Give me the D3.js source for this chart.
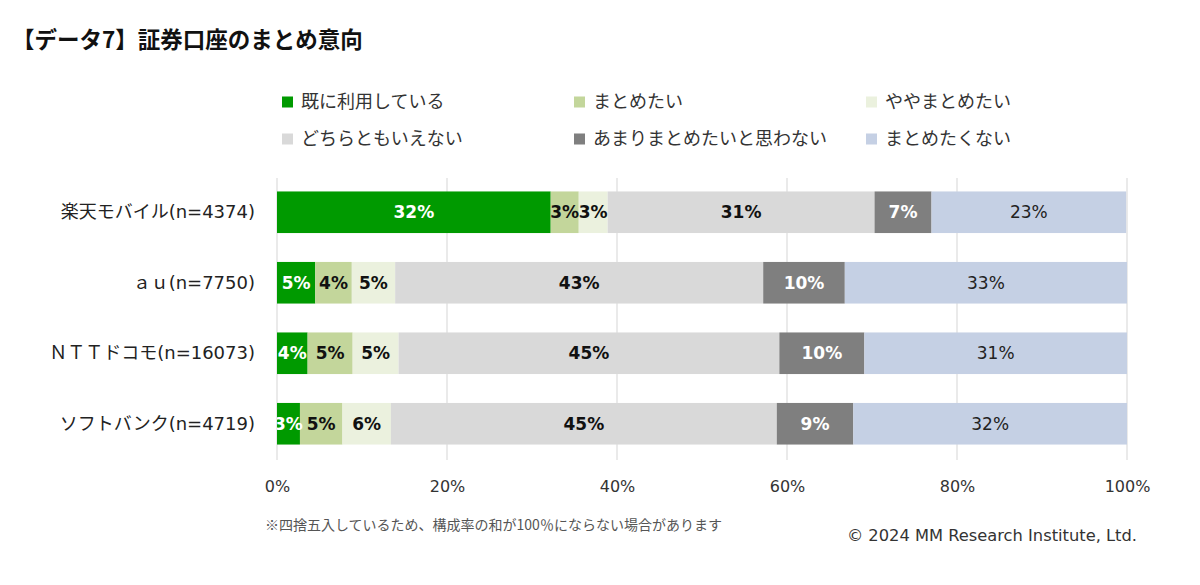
<!DOCTYPE html>
<html><head><meta charset="utf-8">
<script src="https://cdn.jsdelivr.net/npm/d3@7"></script>
<style>
html,body{margin:0;padding:0;background:#fff;}
svg{display:block;}
</style></head>
<body>
<svg id="chart" width="1200" height="585"></svg>
<script>
const categories = ["楽天モバイル(n=4374)", "ａｕ(n=7750)", "ＮＴＴドコモ(n=16073)", "ソフトバンク(n=4719)"];
const seriesNames = ["既に利用している", "まとめたい", "ややまとめたい", "どちらともいえない", "あまりまとめたいと思わない", "まとめたくない"];
const seriesColors = ["#009a00", "#c3d69b", "#ebf1de", "#d9d9d9", "#7f7f7f", "#c5d0e4"];
const labelColors = ["#ffffff", "#111111", "#111111", "#111111", "#ffffff", "#222222"];
const labelWeights = ["bold", "bold", "bold", "bold", "bold", "normal"];
// values in percent per category, series order
const v0 = [32.2, 3.3, 3.4, 31.4, 6.7, 22.9];
const v1 = [4.5, 4.3, 5.1, 43.3, 9.6, 33.2];
const v2 = [3.6, 5.3, 5.4, 44.8, 10.0, 30.9];
const v3 = [2.7, 5.0, 5.7, 45.4, 9.0, 32.2];
const values = [v0, v1, v2, v3];
const tickValues = [0, 0.2, 0.4, 0.6, 0.8, 1.0];
const title = "【データ7】証券口座のまとめ意向";
const footnote = "※四捨五入しているため、構成率の和が100％にならない場合があります";
const copyright = "© 2024 MM Research Institute, Ltd.";

const svg = d3.select("#chart");
const jp = "'Noto Sans CJK JP', sans-serif";
const mix = "'DejaVu Sans', 'Noto Sans CJK JP', sans-serif";

const x = d3.scaleLinear().domain([0, 1]).range([277, 1127]);
const y = d3.scaleBand().domain(categories).range([177, 459]).paddingInner(0.41).paddingOuter(0.205);

// title
svg.append("text").attr("x", 12).attr("y", 48).text(title)
  .attr("font-family", jp).attr("font-weight", "bold").attr("font-size", 22.5).attr("fill", "#111");

// legend
const legX = [282, 574, 866];
const legY = [102, 139];
seriesNames.forEach((name, i) => {
  const lx = legX[i % 3], ly = legY[Math.floor(i / 3)];
  svg.append("rect").attr("x", lx).attr("y", ly - 5.5).attr("width", 11).attr("height", 11).attr("fill", seriesColors[i]);
  svg.append("text").attr("x", lx + 19).attr("y", ly).attr("dy", "0.36em").text(name)
    .attr("font-family", jp).attr("font-size", 18).attr("fill", "#333");
});

// gridlines
svg.append("g").selectAll("line").data(tickValues).join("line")
  .attr("x1", d => x(d)).attr("x2", d => x(d)).attr("y1", 178).attr("y2", 460)
  .attr("stroke", "#dcdcdc").attr("stroke-width", 1.2);

// stacked data
const stacked = categories.map((c, ci) => {
  let acc = 0;
  return values[ci].map((v, si) => {
    const d = { cat: c, si, v: v / 100, x0: acc / 100, x1: (acc + v) / 100 };
    acc += v;
    return d;
  });
}).flat();

svg.append("g").selectAll("rect").data(stacked).join("rect")
  .attr("x", d => x(d.x0)).attr("width", d => x(d.x1) - x(d.x0))
  .attr("y", d => y(d.cat)).attr("height", y.bandwidth())
  .attr("fill", d => seriesColors[d.si]);

// labels
svg.append("clipPath").attr("id", "plotclip").append("rect")
  .attr("x", x(0)).attr("y", 170).attr("width", x(1) - x(0)).attr("height", 300);
const fmt = d3.format(".0%");
svg.append("g").attr("clip-path", "url(#plotclip)").selectAll("text").data(stacked).join("text")
  .attr("x", d => (x(d.x0) + x(d.x1)) / 2).attr("y", d => y(d.cat) + y.bandwidth() / 2)
  .attr("dy", "0.36em").attr("text-anchor", "middle")
  .attr("font-family", "'DejaVu Sans', sans-serif").attr("font-size", 17)
  .attr("font-weight", d => labelWeights[d.si]).attr("fill", d => labelColors[d.si])
  .text(d => fmt(Math.round(d.v * 100) / 100));

// y axis
const yAxis = svg.append("g").attr("transform", `translate(${x(0)},0)`)
  .call(d3.axisLeft(y).tickSize(0).tickPadding(22));
yAxis.select(".domain").remove();
yAxis.selectAll("text").attr("font-family", mix).attr("font-size", 18).attr("fill", "#222");

// x axis
const xAxis = svg.append("g").attr("transform", `translate(0,478)`)
  .call(d3.axisBottom(x).tickValues(tickValues).tickFormat(d3.format(".0%")).tickSize(0).tickPadding(3));
xAxis.select(".domain").remove();
xAxis.selectAll("text").attr("font-family", "'DejaVu Sans', sans-serif").attr("font-size", 16).attr("fill", "#333");

// footnote
svg.append("text").attr("x", 265).attr("y", 530).text(footnote)
  .attr("font-family", jp).attr("font-size", 14).attr("fill", "#555");
svg.append("text").attr("x", 1137).attr("y", 541).attr("text-anchor", "end").text(copyright)
  .attr("font-family", "'DejaVu Sans', sans-serif").attr("font-size", 16.3).attr("fill", "#333");
</script>
</body></html>
